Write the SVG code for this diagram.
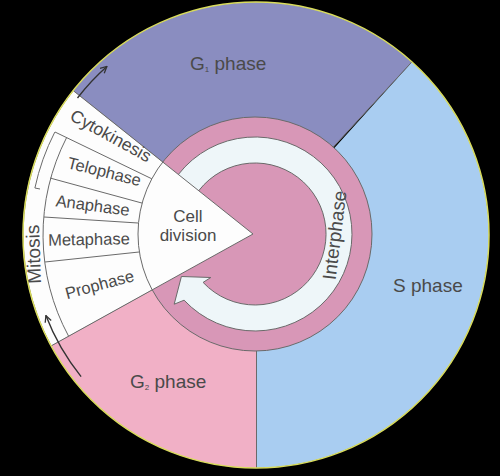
<svg xmlns="http://www.w3.org/2000/svg" width="500" height="476" viewBox="0 0 500 476">
<defs>
<style>
.lbl{font-family:"Liberation Sans",Arial,sans-serif;fill:#4a4a4a}
.big{font-size:19px}
.cell{font-size:16.5px}
.edge{fill:none;stroke:#6a6a6a;stroke-width:1}
.arr{fill:none;stroke:#333;stroke-width:1.4;marker-end:url(#ah)}
</style>
<marker id="ah" viewBox="0 0 10 10" refX="9" refY="5" markerWidth="8" markerHeight="8" markerUnits="userSpaceOnUse" orient="auto">
<path d="M1,1 L9,5 L1,9" fill="none" stroke="#333" stroke-width="1.6"/>
</marker>
</defs>
<rect width="500" height="476" fill="#000"/>

<g id="g1-phase">
<path d="M253,234 L73.2,90.6 A233,233 0 0 1 411.9,61.9 Z" fill="#8a8dc0"/>
</g>
<g id="s-phase">
<path d="M256,235 L411.9,61.9 A233,233 0 0 1 256,468 Z" fill="#a9cdf1"/>
</g>
<g id="g2-phase">
<path d="M256,235 L256,468 A233,233 0 0 1 51.1,345.9 L253,234 Z" fill="#f1b0c6"/>
</g>

<g id="interphase-ring">
<circle cx="255" cy="234" r="117" fill="#d897b7"/>
<path d="M172.7,182.6 A97,97 0 1 1 184.1,300.2 L174.2,304.2 L181.4,276.5 L210.8,277.5 L203.1,282.4 A71,71 0 1 0 194.8,196.4 Z" fill="#eef6f9" stroke="#6a6a6a" stroke-width="1"/>
</g>

<g id="cell-division">
<path d="M253,234 L51.1,345.9 A233,233 0 0 1 73.2,90.6 Z" fill="#fdfdfd" stroke="#6a6a6a" stroke-width="1"/>
</g>

<g id="connectors">
<circle class="edge" cx="255" cy="234" r="117"/>
<line class="edge" x1="333.3" y1="147.1" x2="411.9" y2="61.9"/>
<line class="edge" x1="256.5" y1="351" x2="256.5" y2="468"/>
<line class="edge" x1="151.8" y1="178.8" x2="55" y2="132"/>
<line class="edge" x1="142.1" y1="203.1" x2="50" y2="178"/>
<line class="edge" x1="138" y1="223" x2="44" y2="217"/>
<line class="edge" x1="139" y1="252" x2="45" y2="262"/>
<path class="edge" d="M66.6,137.6 A213,213 0 0 0 68.6,336.2"/>
<path class="edge" d="M54.8,132.1 A226,226 0 0 0 34.9,188 L40,189"/>
<path class="arr" d="M77.5,98 A225,225 0 0 1 106.9,66.5"/>
<path class="arr" d="M81.1,376.6 A225,225 0 0 1 45.9,315.6"/>
</g>

<g id="labels">
<text class="lbl big" x="190" y="70">G<tspan font-size="8" dy="2">1</tspan><tspan dy="-2"> phase</tspan></text>
<text class="lbl big" x="393" y="292">S phase</text>
<text class="lbl big" x="130" y="388">G<tspan font-size="8" dy="2">2</tspan><tspan dy="-2"> phase</tspan></text>
<text class="lbl" font-size="17" x="188" y="222" text-anchor="middle">Cell</text>
<text class="lbl" font-size="17" x="188" y="241" text-anchor="middle">division</text>
<text class="lbl big" transform="translate(341,236) rotate(-83)" text-anchor="middle">Interphase</text>
<text class="lbl big" transform="translate(40,254) rotate(-92)" text-anchor="middle">Mitosis</text>
<text class="lbl" font-size="17.5" transform="translate(108,141) rotate(29)" text-anchor="middle">Cytokinesis</text>
<text class="lbl cell" transform="translate(103,177) rotate(14)" text-anchor="middle">Telophase</text>
<text class="lbl cell" transform="translate(92,211) rotate(7.5)" text-anchor="middle">Anaphase</text>
<text class="lbl cell" transform="translate(89,245) rotate(-1)" text-anchor="middle">Metaphase</text>
<text class="lbl cell" transform="translate(101,290) rotate(-15)" text-anchor="middle">Prophase</text>
</g>

<circle cx="256" cy="235" r="233" fill="none" stroke="#d9dc5c" stroke-width="1.5"/>
</svg>
